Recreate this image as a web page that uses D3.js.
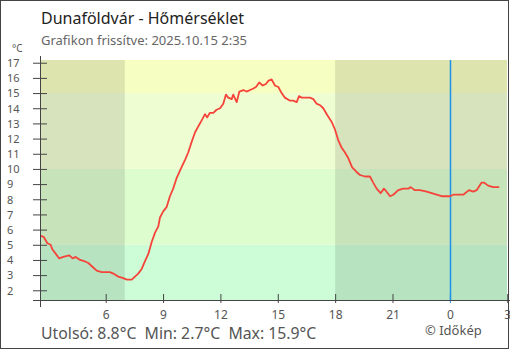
<!DOCTYPE html>
<html>
<head>
<meta charset="utf-8">
<script src="https://cdn.jsdelivr.net/npm/d3@7"></script>
<style>
  html, body { margin: 0; padding: 0; background: #fff; }
  svg { display: block; font-family: "Noto Sans", "Open Sans", sans-serif; }
</style>
</head>
<body>
<svg id="chart" width="510" height="350"></svg>
<script>
// ---- data (hours since 2025-10-14 00:00) ----
const hours = [2.58,2.77,2.95,3.12,3.21,3.39,3.57,3.78,4.10,4.27,4.43,4.66,4.92,5.09,5.35,5.53,5.79,6.05,6.22,6.40,6.66,6.92,7.10,7.36,7.53,7.70,7.88,8.05,8.23,8.41,8.58,8.75,8.84,9.01,9.19,9.36,9.53,9.71,9.89,10.15,10.32,10.50,10.67,10.84,11.02,11.19,11.31,11.45,11.63,11.80,11.98,12.15,12.29,12.41,12.59,12.67,12.85,12.99,13.20,13.37,13.55,13.72,13.86,14.03,14.21,14.38,14.50,14.68,14.85,15.03,15.20,15.37,15.64,15.81,15.99,16.11,16.25,16.42,16.68,16.86,17.03,17.21,17.38,17.56,17.82,17.99,18.16,18.34,18.51,18.69,18.89,19.12,19.30,19.56,19.82,19.99,20.17,20.38,20.55,20.69,20.87,21.04,21.30,21.56,21.82,21.95,22.17,22.43,22.79,23.05,23.31,23.57,24.00,24.18,24.70,25.00,25.22,25.40,25.66,25.78,26.00,26.27,26.58];
const temps = [5.6,5.5,5.1,5.0,4.7,4.4,4.1,4.2,4.3,4.1,4.2,4.0,3.9,3.8,3.5,3.3,3.2,3.2,3.2,3.1,2.9,2.8,2.7,2.7,2.9,3.1,3.4,3.9,4.4,5.2,5.8,6.2,6.8,7.2,7.5,8.2,8.7,9.4,9.9,10.6,11.1,11.8,12.4,12.8,13.2,13.6,13.4,13.7,13.7,13.9,14.0,14.3,14.9,14.7,14.6,14.9,14.4,15.1,15.2,15.1,15.2,15.3,15.4,15.7,15.5,15.6,15.8,15.9,15.5,15.4,15.0,14.7,14.5,14.5,14.4,14.8,14.7,14.7,14.7,14.6,14.3,14.2,14.0,13.6,13.1,12.6,11.9,11.4,11.1,10.7,10.1,9.8,9.6,9.5,9.5,9.1,8.7,8.4,8.7,8.5,8.2,8.3,8.6,8.7,8.7,8.8,8.6,8.6,8.5,8.4,8.3,8.2,8.2,8.3,8.3,8.6,8.5,8.6,9.1,9.1,8.9,8.8,8.8];
const xTickHours = [6,9,12,15,18,21,24,27];
const xTickLabels = ["6","9","12","15","18","21","0","3"];
const yTicks = [2,3,4,5,6,7,8,9,10,11,12,13,14,15,16,17];
const bandLimits = [1.36, 5, 10, 15, 17.18];
const bandColors = ["#ccfdd7", "#ddfdcf", "#effdd3", "#f6fec2"];
const nightPeriods = [[2.5645, 7], [18, 27.04]];
const midnight = 24;
const title = "Dunaföldvár - Hőmérséklet";
const subtitle = "Grafikon frissítve: 2025.10.15 2:35";
const footer = "Utolsó: 8.8°C  Min: 2.7°C  Max: 15.9°C";
const credit = "© Időkép";

// ---- layout ----
const svg = d3.select("#chart");
const pLeft = 40, pRight = 508, pTop = 60, pBottom = 300;
const x = d3.scaleLinear().domain([2.5645, 27.04]).range([pLeft, pRight]);
const y = d3.scaleLinear().domain([1.36, 17.18]).range([pBottom, pTop]);

const plot = svg.append("g");
plot.append("clipPath").attr("id", "clip")
  .append("rect").attr("x", pLeft).attr("y", pTop).attr("width", 467).attr("height", pBottom - pTop);

const bg = plot.append("g").attr("clip-path", "url(#clip)");
bg.selectAll("rect.band").data(bandColors).join("rect")
  .attr("class", "band")
  .attr("x", pLeft).attr("width", pRight - pLeft)
  .attr("y", (d, i) => y(bandLimits[i + 1]))
  .attr("height", (d, i) => y(bandLimits[i]) - y(bandLimits[i + 1]))
  .attr("fill", d => d);
bg.selectAll("rect.night").data(nightPeriods).join("rect")
  .attr("class", "night")
  .attr("x", d => x(d[0])).attr("width", d => x(d[1]) - x(d[0]))
  .attr("y", pTop).attr("height", pBottom - pTop)
  .attr("fill", "#000").attr("fill-opacity", 0.1);

const midX = Math.round(x(midnight)) + 0.5;
bg.append("line")
  .attr("x1", midX).attr("x2", midX)
  .attr("y1", pTop).attr("y2", pBottom)
  .attr("stroke", "#1e90e8").attr("stroke-width", 1.5);

const pts = hours.map((h, i) => [h, temps[i]]);
bg.append("path")
  .datum(pts)
  .attr("fill", "none")
  .attr("stroke", "#f5443a")
  .attr("stroke-width", 1.8)
  .attr("stroke-linejoin", "round")
  .attr("d", d3.line().x(d => x(d[0])).y(d => y(d[1])));

// ---- axes ----
const axisColor = "#444";
const yAxis = svg.append("g").attr("transform", `translate(${pLeft},0)`)
  .call(d3.axisLeft(y).tickValues(yTicks).tickFormat(d3.format("d")).tickSize(7));
yAxis.select(".domain").remove();
yAxis.selectAll(".tick line").attr("x1", -7).attr("x2", 7).attr("stroke", axisColor);
yAxis.selectAll(".tick text")
  .attr("x", 7 - pLeft).attr("dy", "0.35em")
  .attr("text-anchor", "start")
  .attr("fill", "#555").style("font-size", "11px")
  .style("font-family", "'Noto Sans', sans-serif");

const xAxis = svg.append("g").attr("transform", `translate(0,${pBottom})`)
  .call(d3.axisBottom(x).tickValues(xTickHours).tickFormat((d, i) => xTickLabels[i]).tickSize(3));
xAxis.select(".domain").remove();
xAxis.selectAll(".tick line").attr("y1", -6).attr("y2", 3)
  .attr("stroke", d => d === midnight ? "#1e90e8" : axisColor);
xAxis.selectAll(".tick text")
  .attr("y", 10).attr("dy", "0.71em")
  .attr("fill", "#555").style("font-size", "12px")
  .style("font-family", "'Noto Sans', sans-serif");

svg.append("line").attr("x1", pLeft + 0.5).attr("x2", pLeft + 0.5).attr("y1", 56).attr("y2", 307)
  .attr("stroke", axisColor);
svg.append("line").attr("x1", 33).attr("x2", 510).attr("y1", pBottom + 0.5).attr("y2", pBottom + 0.5)
  .attr("stroke", axisColor);

// ---- texts ----
svg.append("text").attr("x", 41).attr("y", 24).text(title)
  .attr("fill", "#222").style("font-size", "16px");
svg.append("text").attr("x", 41).attr("y", 44.5).text(subtitle)
  .attr("fill", "#666").style("font-size", "13px");
svg.append("text").attr("x", 12).attr("y", 52).text("°C")
  .attr("fill", "#555").style("font-size", "10px");
svg.append("text").attr("x", 41).attr("y", 339).text(footer)
  .attr("fill", "#555").style("font-size", "15.8px").style("white-space", "pre");
svg.append("text").attr("x", 425).attr("y", 335).text(credit)
  .attr("fill", "#555").style("font-size", "13px");

svg.append("rect").attr("x", 0.5).attr("y", 0.5).attr("width", 508).attr("height", 348)
  .attr("fill", "none").attr("stroke", "#444").attr("stroke-width", 1);
</script>
</body>
</html>
